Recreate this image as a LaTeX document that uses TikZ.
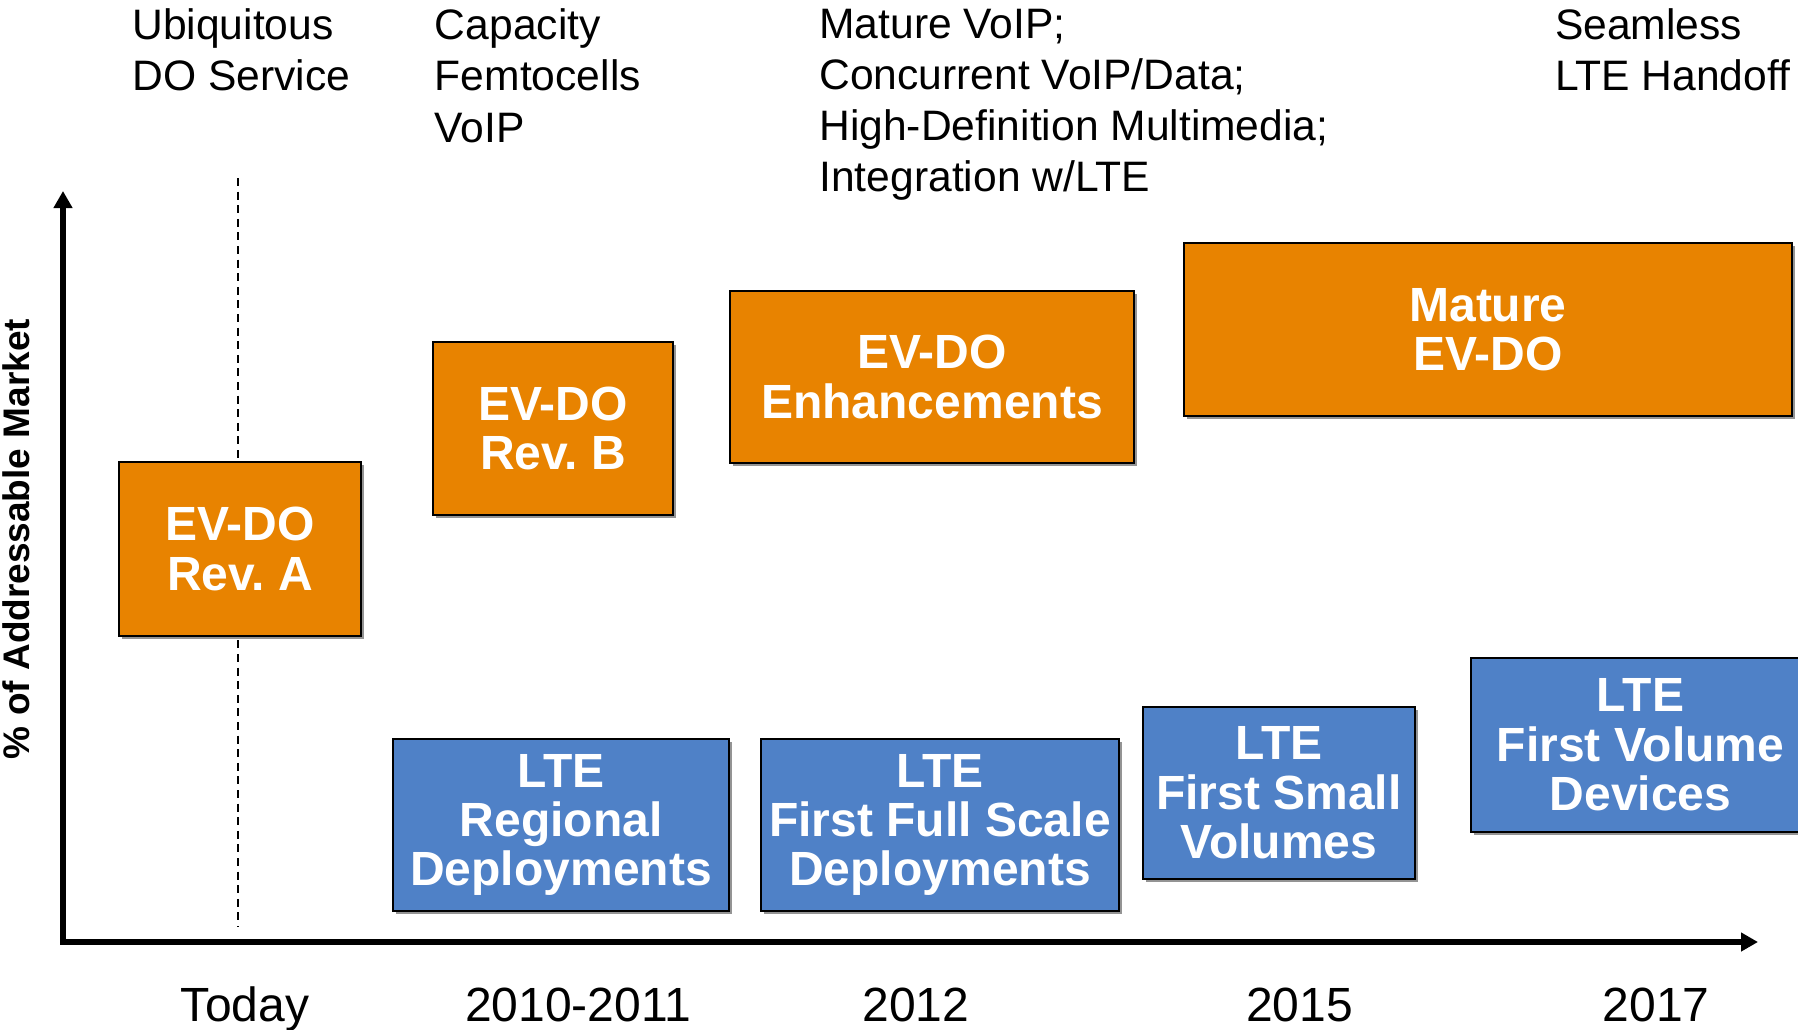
\documentclass[tikz,border=0pt]{standalone}
\usepackage{fontspec}
\setmainfont{Liberation Sans}
\usetikzlibrary{shadows,arrows.meta}
\definecolor{evorange}{RGB}{232,131,0}
\definecolor{lteblue}{RGB}{79,129,199}
\frenchspacing
\tikzset{
  boxbase/.style={draw=black, line width=1.2pt, inner sep=0pt, text=white, align=center,
    font=\bfseries\fontsize{24}{24.7}\selectfont,
    drop shadow={shadow xshift=1.6pt, shadow yshift=-1.6pt, fill=black!42, opacity=1}},
  evbox/.style={boxbase, fill=evorange},
  ltebox/.style={boxbase, fill=lteblue},
  toplabel/.style={anchor=north west, inner sep=0pt, align=left, font=\fontsize{21.3}{25.6}\selectfont},
  yearlabel/.style={anchor=base, inner sep=0pt, font=\fontsize{24}{28}\selectfont},
  axisline/.style={line width=2.8pt, {Triangle[length=8.5pt,width=9pt]}-{Triangle[length=8.5pt,width=9pt]}},
  guide/.style={line width=0.6pt, dash pattern=on 4pt off 2.8pt}
}
\begin{document}
\begin{tikzpicture}[x=0.5pt,y=-0.5pt]
\useasboundingbox (0,0) rectangle (1798,1029);
% top labels
\node[toplabel] (t1) at (132,8.5) {Ubiquitous\\DO Service};
\node[toplabel] (t2) at (434.5,8.5) {Capacity\\Femtocells\\VoIP};
\node[toplabel] (t3) at (819,8.5) {Mature VoIP;\\Concurrent VoIP/Data;\\High-Definition Multimedia;\\Integration w/LTE};
\node[toplabel] (t4) at (1554.6,8.5) {Seamless\\LTE Handoff};
% dashed guide
\coordinate (dtop) at (238,178);
\coordinate (dbot) at (238,927);
\draw[guide] (dtop) -- (dbot);
% axes
\coordinate (ytip) at (63,191);
\coordinate (origin) at (63,942);
\coordinate (xtip) at (1758,942);
\draw[axisline] (ytip) -- (origin) -- (xtip);
\node[rotate=90, inner sep=0pt, font=\bfseries\fontsize{18.5}{20}\selectfont] (ylab) at (16,539) {\% of Addressable Market};
% EV-DO boxes
\node[evbox, minimum width=121pt, minimum height=87pt] (revA) at (240,549) {EV-DO\\Rev. A};
\node[evbox, minimum width=120pt, minimum height=86.5pt] (revB) at (553,428.5) {EV-DO\\Rev. B};
\node[evbox, minimum width=202pt, minimum height=86pt] (enh) at (932,377) {EV-DO\\Enhancements};
\node[evbox, minimum width=304pt, minimum height=86.5pt] (mature) at (1488,329.5) {Mature\\EV-DO};
% LTE boxes
\node[ltebox, minimum width=168pt, minimum height=86pt] (lteReg) at (561,825) {LTE\\Regional\\Deployments};
\node[ltebox, minimum width=179pt, minimum height=86pt] (lteFull) at (940,825) {LTE\\First Full Scale\\Deployments};
\node[ltebox, minimum width=136pt, minimum height=86pt] (lteSmall) at (1279,793) {LTE\\First Small\\Volumes};
\node[ltebox, minimum width=169.5pt, minimum height=87pt] (lteVol) at (1640.5,745) {LTE\\First Volume\\Devices};
% year labels
\node[yearlabel] (y1) at (245,1021.7) {Today};
\node[yearlabel] (y2) at (578,1021.7) {2010-2011};
\node[yearlabel] (y3) at (916,1021.7) {2012};
\node[yearlabel] (y4) at (1299.5,1021.7) {2015};
\node[yearlabel] (y5) at (1656,1021.7) {2017};
\end{tikzpicture}
\end{document}
